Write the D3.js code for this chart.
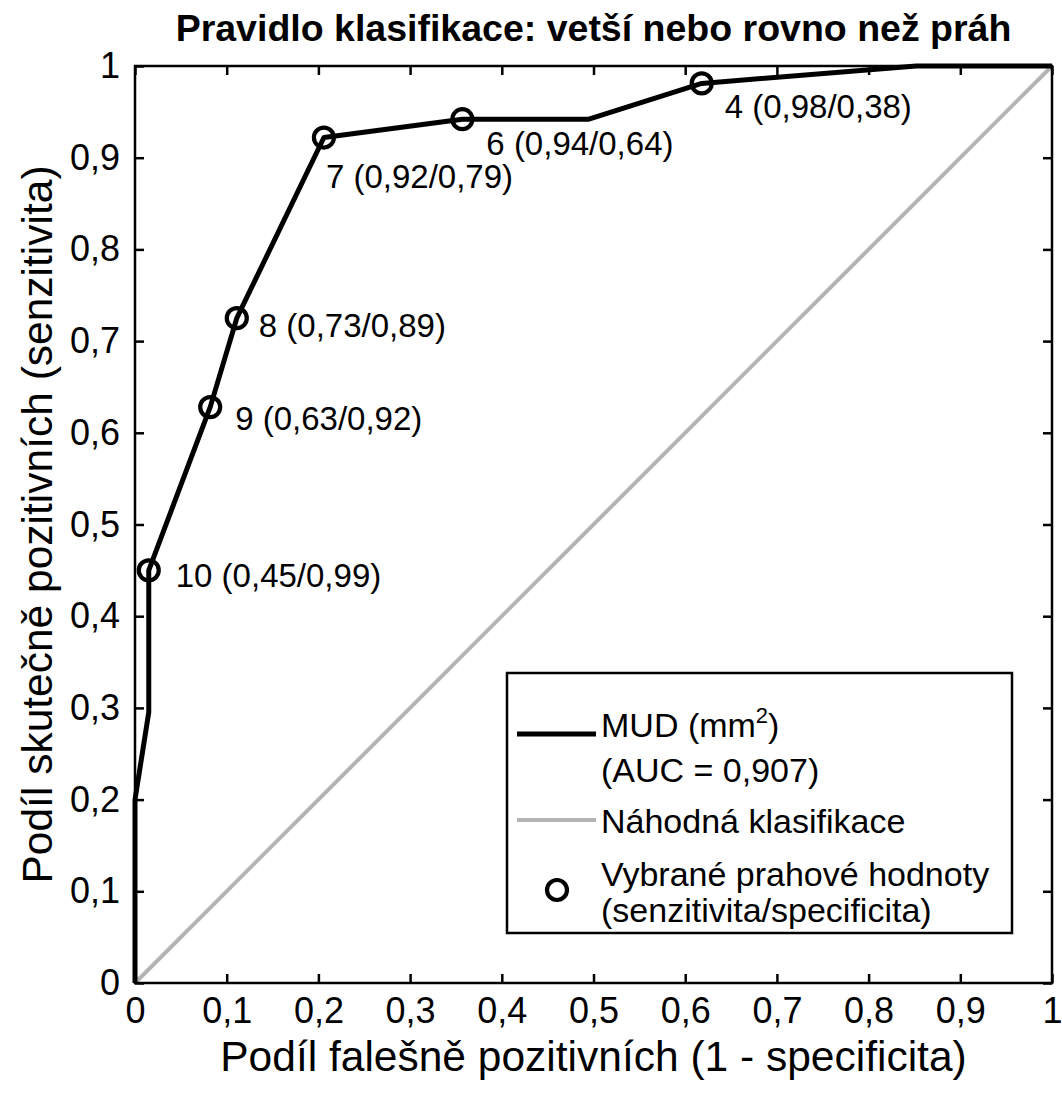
<!DOCTYPE html>
<html>
<head>
<meta charset="utf-8">
<script src="https://cdn.jsdelivr.net/npm/d3@7"></script>
<style>
  body { margin: 0; background: #fff; }
  svg text { font-family: "Liberation Sans", Arial, Helvetica, sans-serif; fill: #000; }
</style>
</head>
<body>
<script>
// ROC curve (1 - specificita, senzitivita)
const fpr = [0, 0, 0.015, 0.015, 0.082, 0.111, 0.206, 0.357, 0.495, 0.618, 0.852, 1];
const tpr = [0, 0.2, 0.295, 0.45, 0.628, 0.725, 0.922, 0.942, 0.942, 0.981, 1, 1];

// vybrané prahové hodnoty
const thrFpr = [0.015, 0.082, 0.111, 0.206, 0.357, 0.618];
const thrTpr = [0.45, 0.628, 0.725, 0.922, 0.942, 0.981];
const thrLabels = ["10 (0,45/0,99)", "9 (0,63/0,92)", "8 (0,73/0,89)", "7 (0,92/0,79)", "6 (0,94/0,64)", "4 (0,98/0,38)"];
// label offsets from the marker, px
const labelDx = [27, 25, 22, 2, 24, 23];
const labelDy = [17, 23, 19, 50, 36, 35];

const ticks = [0, 0.1, 0.2, 0.3, 0.4, 0.5, 0.6, 0.7, 0.8, 0.9, 1];

const titleText = "Pravidlo klasifikace: vetší nebo rovno než práh";
const xLabel = "Podíl falešně pozitivních (1 - specificita)";
const yLabel = "Podíl skutečně pozitivních (senzitivita)";

const width = 1062, height = 1095;
const margin = {left: 135, top: 66, right: 10, bottom: 112};
const w = width - margin.left - margin.right;   // 917
const h = height - margin.top - margin.bottom;  // 917

const cz = d3.formatLocale({decimal: ",", thousands: " ", grouping: [3], currency: ["", " Kč"]});
const fmt = cz.format(".1~f");

const x = d3.scaleLinear().domain([0, 1]).range([0, w]);
const y = d3.scaleLinear().domain([0, 1]).range([h, 0]);

const svg = d3.select("body").append("svg")
    .attr("width", width).attr("height", height);

const g = svg.append("g")
    .attr("transform", "translate(" + margin.left + "," + margin.top + ")");

// axes, ticks inside (MATLAB box)
const tickLen = 9;
g.append("g").attr("class", "axis")
    .attr("transform", "translate(0," + h + ")")
    .call(d3.axisBottom(x).tickValues(ticks).tickFormat(fmt).tickSizeInner(-tickLen).tickSizeOuter(0).tickPadding(14));
g.append("g").attr("class", "axis")
    .call(d3.axisLeft(y).tickValues(ticks).tickFormat(fmt).tickSizeInner(-tickLen).tickSizeOuter(0).tickPadding(15));
g.append("g").attr("class", "axis")
    .call(d3.axisTop(x).tickValues(ticks).tickFormat("").tickSizeInner(-tickLen).tickSizeOuter(0));
g.append("g").attr("class", "axis")
    .attr("transform", "translate(" + w + ",0)")
    .call(d3.axisRight(y).tickValues(ticks).tickFormat("").tickSizeInner(-tickLen).tickSizeOuter(0));

g.selectAll(".axis .domain").remove();
g.selectAll(".axis line").attr("stroke", "#000").attr("stroke-width", 2.5);
g.selectAll(".axis text").style("font-size", "36px").attr("fill", "#000");

// náhodná klasifikace
g.append("line")
    .attr("x1", x(0)).attr("y1", y(0)).attr("x2", x(1)).attr("y2", y(1))
    .attr("stroke", "#b4b4b4").attr("stroke-width", 4);

// ROC line
const rocData = fpr.map((d, i) => [d, tpr[i]]);
g.append("path")
    .datum(rocData)
    .attr("fill", "none").attr("stroke", "#000").attr("stroke-width", 5)
    .attr("stroke-linejoin", "round")
    .attr("d", d3.line().x(d => x(d[0])).y(d => y(d[1])));

// box
g.append("rect")
    .attr("x", 0).attr("y", 0).attr("width", w).attr("height", h)
    .attr("fill", "none").attr("stroke", "#000").attr("stroke-width", 2.5);

// markers + labels
const thr = thrFpr.map((d, i) => ({fx: d, ty: thrTpr[i], label: thrLabels[i], dx: labelDx[i], dy: labelDy[i]}));
g.selectAll("circle.thr")
    .data(thr).enter().append("circle")
    .attr("class", "thr")
    .attr("cx", d => x(d.fx)).attr("cy", d => y(d.ty)).attr("r", 10)
    .attr("fill", "none").attr("stroke", "#000").attr("stroke-width", 4.2);
g.selectAll("text.thr")
    .data(thr).enter().append("text")
    .attr("class", "thr")
    .attr("x", d => x(d.fx) + d.dx).attr("y", d => y(d.ty) + d.dy)
    .style("font-size", "33px")
    .text(d => d.label);

// title + axis labels
svg.append("text")
    .attr("x", margin.left + w / 2).attr("y", 41)
    .attr("text-anchor", "middle")
    .style("font-size", "37.5px").style("font-weight", "bold")
    .text(titleText);
svg.append("text")
    .attr("x", margin.left + w / 2).attr("y", 1071)
    .attr("text-anchor", "middle")
    .style("font-size", "42.5px")
    .text(xLabel);
svg.append("text")
    .attr("transform", "translate(52," + (margin.top + h / 2) + ") rotate(-90)")
    .attr("text-anchor", "middle")
    .style("font-size", "42.5px")
    .text(yLabel);

// legend
const leg = svg.append("g").attr("transform", "translate(507,673)");
leg.append("rect")
    .attr("width", 505).attr("height", 260)
    .attr("fill", "#fff").attr("stroke", "#000").attr("stroke-width", 2.5);
leg.append("line").attr("x1", 10).attr("x2", 89).attr("y1", 61).attr("y2", 61)
    .attr("stroke", "#000").attr("stroke-width", 5);
const t1 = leg.append("text").attr("x", 94).attr("y", 64).style("font-size", "34px");
t1.append("tspan").text("MUD (mm");
t1.append("tspan").attr("dy", -14).style("font-size", "22px").text("2");
t1.append("tspan").attr("dy", 14).text(")");
leg.append("text").attr("x", 94).attr("y", 109).style("font-size", "34px").text("(AUC = 0,907)");
leg.append("line").attr("x1", 10).attr("x2", 89).attr("y1", 147).attr("y2", 147)
    .attr("stroke", "#b4b4b4").attr("stroke-width", 4);
leg.append("text").attr("x", 94).attr("y", 160).style("font-size", "34px").text("Náhodná klasifikace");
leg.append("circle").attr("cx", 50).attr("cy", 217).attr("r", 10)
    .attr("fill", "none").attr("stroke", "#000").attr("stroke-width", 4.2);
leg.append("text").attr("x", 94).attr("y", 213).style("font-size", "34px").text("Vybrané prahové hodnoty");
leg.append("text").attr("x", 94).attr("y", 249).style("font-size", "34px").text("(senzitivita/specificita)");
</script>
</body>
</html>
